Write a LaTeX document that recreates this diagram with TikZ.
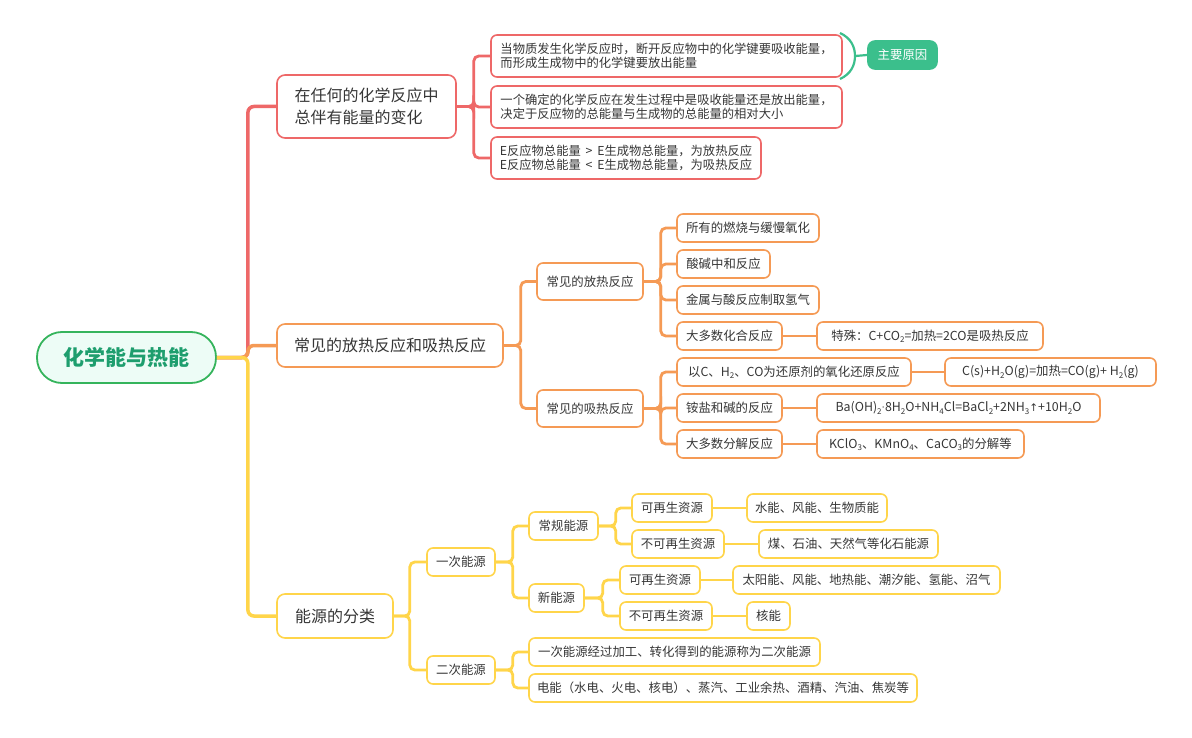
\documentclass[tikz,border=0pt]{standalone}
\usepackage{fontspec}
\setmainfont{Noto Sans CJK SC}
\newfontfamily\symfont{DejaVu Sans}
\usetikzlibrary{calc}
\definecolor{cred}{HTML}{EE6868}
\definecolor{corange}{HTML}{F59A55}
\definecolor{cyellow}{HTML}{FFD54A}
\definecolor{cgreen}{HTML}{35B45C}
\definecolor{cteal}{HTML}{3BBF8C}
\definecolor{ctext}{HTML}{363636}
\definecolor{rootfill}{HTML}{EDFCF6}
\definecolor{roottext}{HTML}{1E9E6E}
\newcommand\sbs[1]{\raisebox{-0.35ex}{\fontsize{8}{8}\selectfont #1}}
\newcommand\mdot{\raisebox{0.25ex}{$\cdot$}}
\newcommand\uparr{{\symfont\fontsize{10.5}{10}\selectfont ↑}}
\begin{document}
\begin{tikzpicture}[x=1pt,y=-1pt,
 box/.style={draw, line width=1.6pt, fill=white, rounded corners=6pt, text=ctext, inner sep=0pt, minimum height=28pt, font=\fontsize{12.4}{15}\selectfont},
 rbox/.style={box, draw=cred, minimum height=42pt, align=left, font=\fontsize{12.3}{14.5}\selectfont},
 obox/.style={box, draw=corange},
 ybox/.style={box, draw=cyellow},
 bigbox/.style={box, rounded corners=8pt, font=\fontsize{16}{22}\selectfont, align=left},
 conn/.style={line width=2.8pt, rounded corners=5pt},
 trunk/.style={line width=3.5pt, rounded corners=6pt},
]
\useasboundingbox (0,0) rectangle (1192,738);
\fill[white] (0,0) rectangle (1192,738);

% root
\node[draw=cgreen, line width=1.8pt, fill=rootfill, rounded corners=25pt, minimum width=179pt, minimum height=51pt, text=roottext, inner sep=0pt, font=\fontsize{21}{21}\selectfont\bfseries] (root) at (126.5,357.5) {化学能与热能};

% main branches
\node[bigbox, draw=cred, minimum width=179pt, minimum height=63pt] (b1) at (366.5,106.5) {在任何的化学反应中\\总伴有能量的变化};
\node[bigbox, draw=corange, minimum width=226pt, minimum height=43pt] (b2) at (390,345.5) {常见的放热反应和吸热反应};
\node[bigbox, draw=cyellow, minimum width=116pt, minimum height=44pt] (b3) at (335,616) {能源的分类};

% red children
\node[rbox, minimum width=351pt] (r1) at (666.5,56) {当物质发生化学反应时，断开反应物中的化学键要吸收能量，\\而形成生成物中的化学键要放出能量};
\node[rbox, minimum width=351pt] (r2) at (666.5,107) {一个确定的化学反应在发生过程中是吸收能量还是放出能量，\\决定于反应物的总能量与生成物的总能量的相对大小};
\node[rbox, minimum width=270pt] (r3) at (626,158) {E反应物总能量 \,>\, E生成物总能量，为放热反应\\E反应物总能量 \,<\, E生成物总能量，为吸热反应};
\node[box, draw=cteal, fill=cteal, text=white, rounded corners=7pt, minimum width=69pt] (mr) at (902.5,55) {主要原因};

% orange children
\node[obox, minimum width=106pt, minimum height=37pt] (exo) at (590,281.5) {常见的放热反应};
\node[obox, minimum width=106pt, minimum height=37pt] (endo) at (590,408.5) {常见的吸热反应};
\node[obox, minimum width=142pt] (e1) at (748,228) {所有的燃烧与缓慢氧化};
\node[obox, minimum width=93pt] (e2) at (723.5,264) {酸碱中和反应};
\node[obox, minimum width=142pt] (e3) at (748,300) {金属与酸反应制取氢气};
\node[obox, minimum width=105pt] (e4) at (729.5,336) {大多数化合反应};
\node[obox, minimum width=226pt] (e4a) at (930,336) {特殊：C+CO\sbs{2}=加热=2CO是吸热反应};
\node[obox, minimum width=234pt] (n1) at (794,372) {以C、H\sbs{2}、CO为还原剂的氧化还原反应};
\node[obox, minimum width=211pt] (n1a) at (1050.5,372) {C(s)+H\sbs{2}O(g)=加热=CO(g)+ H\sbs{2}(g)};
\node[obox, minimum width=105pt] (n2) at (729.5,408) {铵盐和碱的反应};
\node[obox, minimum width=283pt] (n2a) at (958.5,408) {Ba(OH)\sbs{2}\mdot 8H\sbs{2}O+NH\sbs{4}Cl=BaCl\sbs{2}+2NH\sbs{3}\uparr+10H\sbs{2}O};
\node[obox, minimum width=105pt] (n3) at (729.5,444) {大多数分解反应};
\node[obox, minimum width=207pt] (n3a) at (920.5,444) {KClO\sbs{3}、KMnO\sbs{4}、CaCO\sbs{3}的分解等};

% yellow children
\node[ybox, minimum width=68pt] (y1) at (461,562) {一次能源};
\node[ybox, minimum width=68pt] (y2) at (461,670) {二次能源};
\node[ybox, minimum width=69pt] (y11) at (563.5,526) {常规能源};
\node[ybox, minimum width=55pt] (y12) at (556.5,598) {新能源};
\node[ybox, minimum width=80pt] (y111) at (672,508) {可再生资源};
\node[ybox, minimum width=140pt] (y111a) at (817,508) {水能、风能、生物质能};
\node[ybox, minimum width=92pt] (y112) at (678,544) {不可再生资源};
\node[ybox, minimum width=179pt] (y112a) at (848.5,544) {煤、石油、天然气等化石能源};
\node[ybox, minimum width=80pt] (y121) at (660,580) {可再生资源};
\node[ybox, minimum width=267pt] (y121a) at (866.5,580) {太阳能、风能、地热能、潮汐能、氢能、沼气};
\node[ybox, minimum width=92pt] (y122) at (666,616) {不可再生资源};
\node[ybox, minimum width=43pt] (y122a) at (768.5,616) {核能};
\node[ybox, minimum width=291pt] (y21) at (674.5,652) {一次能源经过加工、转化得到的能源称为二次能源};
\node[ybox, minimum width=388pt] (y22) at (723,688) {电能（水电、火电、核电）、蒸汽、工业余热、酒精、汽油、焦炭等};

% trunk
\draw[trunk, cred] (root.east) -- ++(31,0) |- (b1.west);
\draw[trunk, corange] (root.east) -- ++(31,0) |- (b2.west);
\draw[trunk, cyellow] (root.east) -- ++(31,0) |- (b3.west);

% red connectors
\foreach \c in {r1,r2,r3} \draw[conn, cred] (b1.east) -- ++(17,0) |- (\c.west);
% brace
\coordinate (bt) at (840,33);
\coordinate (bm) at (855,56);
\coordinate (bb) at (840,79);
\draw[cteal, line width=2.2pt] (bt) .. controls (851,38) and (855,47) .. (bm) .. controls (855,65) and (851,74) .. (bb);
\draw[cteal, line width=2.2pt] (bm) -- (mr.west);

% orange connectors
\foreach \c in {exo,endo} \draw[conn, corange] (b2.east) -- ++(17,0) |- (\c.west);
\foreach \c in {e1,e2,e3,e4} \draw[conn, corange] (exo.east) -- ++(17,0) |- (\c.west);
\foreach \c in {n1,n2,n3} \draw[conn, corange] (endo.east) -- ++(17,0) |- (\c.west);
\draw[conn, corange] (e4) -- (e4a);
\draw[conn, corange] (n1) -- (n1a);
\draw[conn, corange] (n2) -- (n2a);
\draw[conn, corange] (n3) -- (n3a);

% yellow connectors
\foreach \c in {y1,y2} \draw[conn, cyellow] (b3.east) -- ++(16,0) |- (\c.west);
\foreach \c in {y11,y12} \draw[conn, cyellow] (y1.east) -- ++(17,0) |- (\c.west);
\foreach \c in {y111,y112} \draw[conn, cyellow] (y11.east) -- ++(17,0) |- (\c.west);
\foreach \c in {y121,y122} \draw[conn, cyellow] (y12.east) -- ++(18,0) |- (\c.west);
\foreach \c in {y21,y22} \draw[conn, cyellow] (y2.east) -- ++(17,0) |- (\c.west);
\draw[conn, cyellow] (y111) -- (y111a);
\draw[conn, cyellow] (y112) -- (y112a);
\draw[conn, cyellow] (y121) -- (y121a);
\draw[conn, cyellow] (y122) -- (y122a);
\end{tikzpicture}
\end{document}
